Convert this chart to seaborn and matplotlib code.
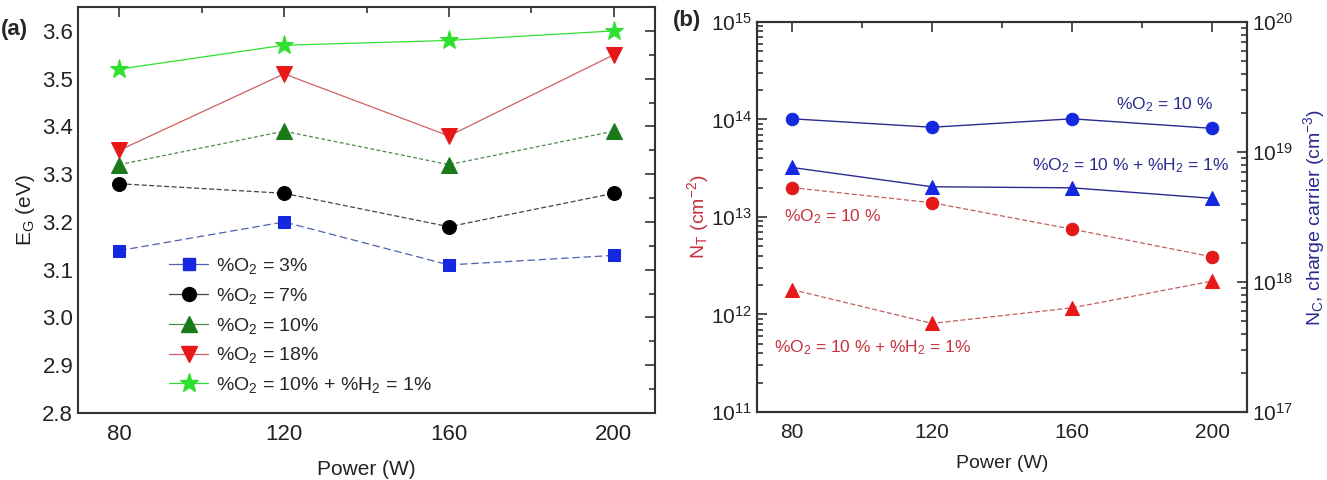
import matplotlib
matplotlib.use('Agg')
import matplotlib.pyplot as plt
import seaborn as sns
from matplotlib.lines import Line2D
from matplotlib.ticker import MultipleLocator, LogLocator, NullFormatter, LogFormatterMathtext

sns.set_theme(style='white')
plt.rcParams['font.family'] = ['Liberation Sans', 'DejaVu Sans']
plt.rcParams['mathtext.fontset'] = 'custom'
plt.rcParams['mathtext.rm'] = 'Liberation Sans'
plt.rcParams['mathtext.it'] = 'Liberation Sans'
plt.rcParams['mathtext.bf'] = 'Liberation Sans:bold'

# data
power = [80, 120, 160, 200]

# (a) band gap E_G (eV)
eg_o2_3 = [3.14, 3.20, 3.11, 3.13]
eg_o2_7 = [3.28, 3.26, 3.19, 3.26]
eg_o2_10 = [3.32, 3.39, 3.32, 3.39]
eg_o2_18 = [3.35, 3.51, 3.38, 3.55]
eg_o2_10_h2 = [3.52, 3.57, 3.58, 3.60]

# (b) trap density N_T (cm-2) and carrier density N_C (cm-3)
nt_o2_10 = [2.0e13, 1.4e13, 7.5e12, 3.9e12]
nt_o2_10_h2 = [1.8e12, 8.1e11, 1.17e12, 2.2e12]
nc_o2_10 = [1.8e19, 1.55e19, 1.8e19, 1.52e19]
nc_o2_10_h2 = [7.6e18, 5.4e18, 5.3e18, 4.4e18]

labels_a = ['%O$_2$ = 3%', '%O$_2$ = 7%', '%O$_2$ = 10%', '%O$_2$ = 18%',
            '%O$_2$ = 10% + %H$_2$ = 1%']

BLUE = '#1428e0'
NAVY = '#2a2a90'
RED = '#e81818'
DRED = '#c8303c'
DGREEN = '#1a7a1a'
LGREEN = '#30e030'
AX = '#333333'
TXT = '#222222'

fig = plt.figure(figsize=(13.27, 4.8), dpi=100)
ax = fig.add_axes([0.0588, 0.1396, 0.4348, 0.8458])

series_a = [
    (eg_o2_3, 's', BLUE, '#5060b0', (0, (6, 3)), 9),
    (eg_o2_7, 'o', 'black', '#444444', (0, (4, 2)), 10),
    (eg_o2_10, '^', DGREEN, '#4a8a4a', (0, (3, 2)), 11),
    (eg_o2_18, 'v', RED, '#d06060', '-', 11),
    (eg_o2_10_h2, '*', LGREEN, LGREEN, '-', 14),
]
handles = []
for (vals, mk, mc, lc, ls, ms), lab in zip(series_a, labels_a):
    sns.lineplot(x=power, y=vals, ax=ax, color=lc, linestyle=ls, linewidth=0.9,
                 marker=mk, markersize=ms, markerfacecolor=mc, markeredgecolor=mc,
                 zorder=3)
    handles.append(Line2D([], [], color=lc, linestyle='-', linewidth=0.9, marker=mk,
                          markersize=ms, markerfacecolor=mc, markeredgecolor=mc))

ax.set_xlim(70, 210)
ax.set_ylim(2.8, 3.65)
ax.set_xticks(power)
ax.xaxis.set_minor_locator(MultipleLocator(20))
ax.yaxis.set_major_locator(MultipleLocator(0.1))
ax.yaxis.set_minor_locator(MultipleLocator(0.05))
ax.yaxis.set_major_formatter(matplotlib.ticker.FormatStrFormatter('%.1f'))
ax.tick_params(which='both', direction='in', top=True, right=True, color=AX,
               labelsize=16, labelcolor=TXT, width=1.2)
ax.tick_params(which='major', length=7)
ax.tick_params(which='minor', length=4)
ax.tick_params(axis='x', pad=8)
ax.set_xlabel('Power (W)', fontsize=15, color=TXT, labelpad=11)
ax.set_ylabel('E$_G$ (eV)', fontsize=15, color=TXT, labelpad=4)
for s in ax.spines.values():
    s.set_color(AX)
    s.set_linewidth(1.5)
ax.legend(handles, labels_a, loc='lower left', bbox_to_anchor=(0.145, 0.025),
          frameon=False, fontsize=14, handlelength=2.0, labelspacing=0.5,
          handletextpad=0.4, borderaxespad=0)
fig.text(0.001, 0.9375, '(a)', fontsize=16, fontweight='bold', ha='left', va='center')

# (b)
bx = fig.add_axes([0.5705, 0.1417, 0.3693, 0.8125])
bx2 = bx.twinx()
sns.lineplot(x=power, y=nt_o2_10, ax=bx, color='#c06060', linestyle=(0, (4, 2)),
             linewidth=0.9, marker='o', markersize=9, markerfacecolor=RED,
             markeredgecolor='#d02020', zorder=3)
sns.lineplot(x=power, y=nt_o2_10_h2, ax=bx, color='#c06060', linestyle=(0, (4, 2)),
             linewidth=0.9, marker='^', markersize=10, markerfacecolor=RED,
             markeredgecolor=RED, zorder=3)
sns.lineplot(x=power, y=nc_o2_10, ax=bx2, color=NAVY, linestyle='-',
             linewidth=1.0, marker='o', markersize=9, markerfacecolor=BLUE,
             markeredgecolor=BLUE, zorder=3)
sns.lineplot(x=power, y=nc_o2_10_h2, ax=bx2, color=NAVY, linestyle='-',
             linewidth=1.0, marker='^', markersize=10, markerfacecolor=BLUE,
             markeredgecolor=BLUE, zorder=3)

bx.set_yscale('log')
bx2.set_yscale('log')
bx.set_xlim(70, 210)
bx.set_ylim(1e11, 1e15)
bx2.set_ylim(1e17, 1e20)
bx.set_xticks(power)
bx.xaxis.set_minor_locator(MultipleLocator(20))
for a in (bx, bx2):
    a.yaxis.set_major_locator(LogLocator(base=10, numticks=10))
    a.yaxis.set_minor_locator(LogLocator(base=10, subs=range(2, 10), numticks=10))
    a.yaxis.set_minor_formatter(NullFormatter())
    a.yaxis.set_major_formatter(LogFormatterMathtext())
    for s in a.spines.values():
        s.set_color(AX)
        s.set_linewidth(1.5)
bx.tick_params(which='both', direction='in', top=True, right=False, color=AX,
               labelsize=15, labelcolor=TXT, width=1.2)
bx2.tick_params(which='both', direction='in', color=AX, labelsize=15,
                labelcolor=TXT, width=1.2)
for a in (bx, bx2):
    a.tick_params(which='major', length=7)
    a.tick_params(which='minor', length=4)
bx.tick_params(axis='x', pad=8)
bx.set_xlabel('Power (W)', fontsize=14, color=TXT, labelpad=9)
bx.set_ylabel('N$_T$ (cm$^{-2}$)', fontsize=14, color=DRED, labelpad=0)
bx2.set_ylabel('N$_C$, charge carrier (cm$^{-3}$)', fontsize=14, color=NAVY, labelpad=6)

bx2.text(172.6, 2.3e19, '%O$_2$ = 10 %', color=NAVY, fontsize=12.5, va='center')
bx2.text(148.6, 7.9e18, '%O$_2$ = 10 % + %H$_2$ = 1%', color=NAVY, fontsize=12.5, va='center')
bx.text(77.7, 1.0e13, '%O$_2$ = 10 %', color=DRED, fontsize=12.5, va='center')
bx.text(74.9, 4.6e11, '%O$_2$ = 10 % + %H$_2$ = 1%', color=DRED, fontsize=12.5, va='center')
fig.text(0.518, 0.958, '(b)', fontsize=16, fontweight='bold', ha='center', va='center')

fig.savefig('out.png', dpi=100)
